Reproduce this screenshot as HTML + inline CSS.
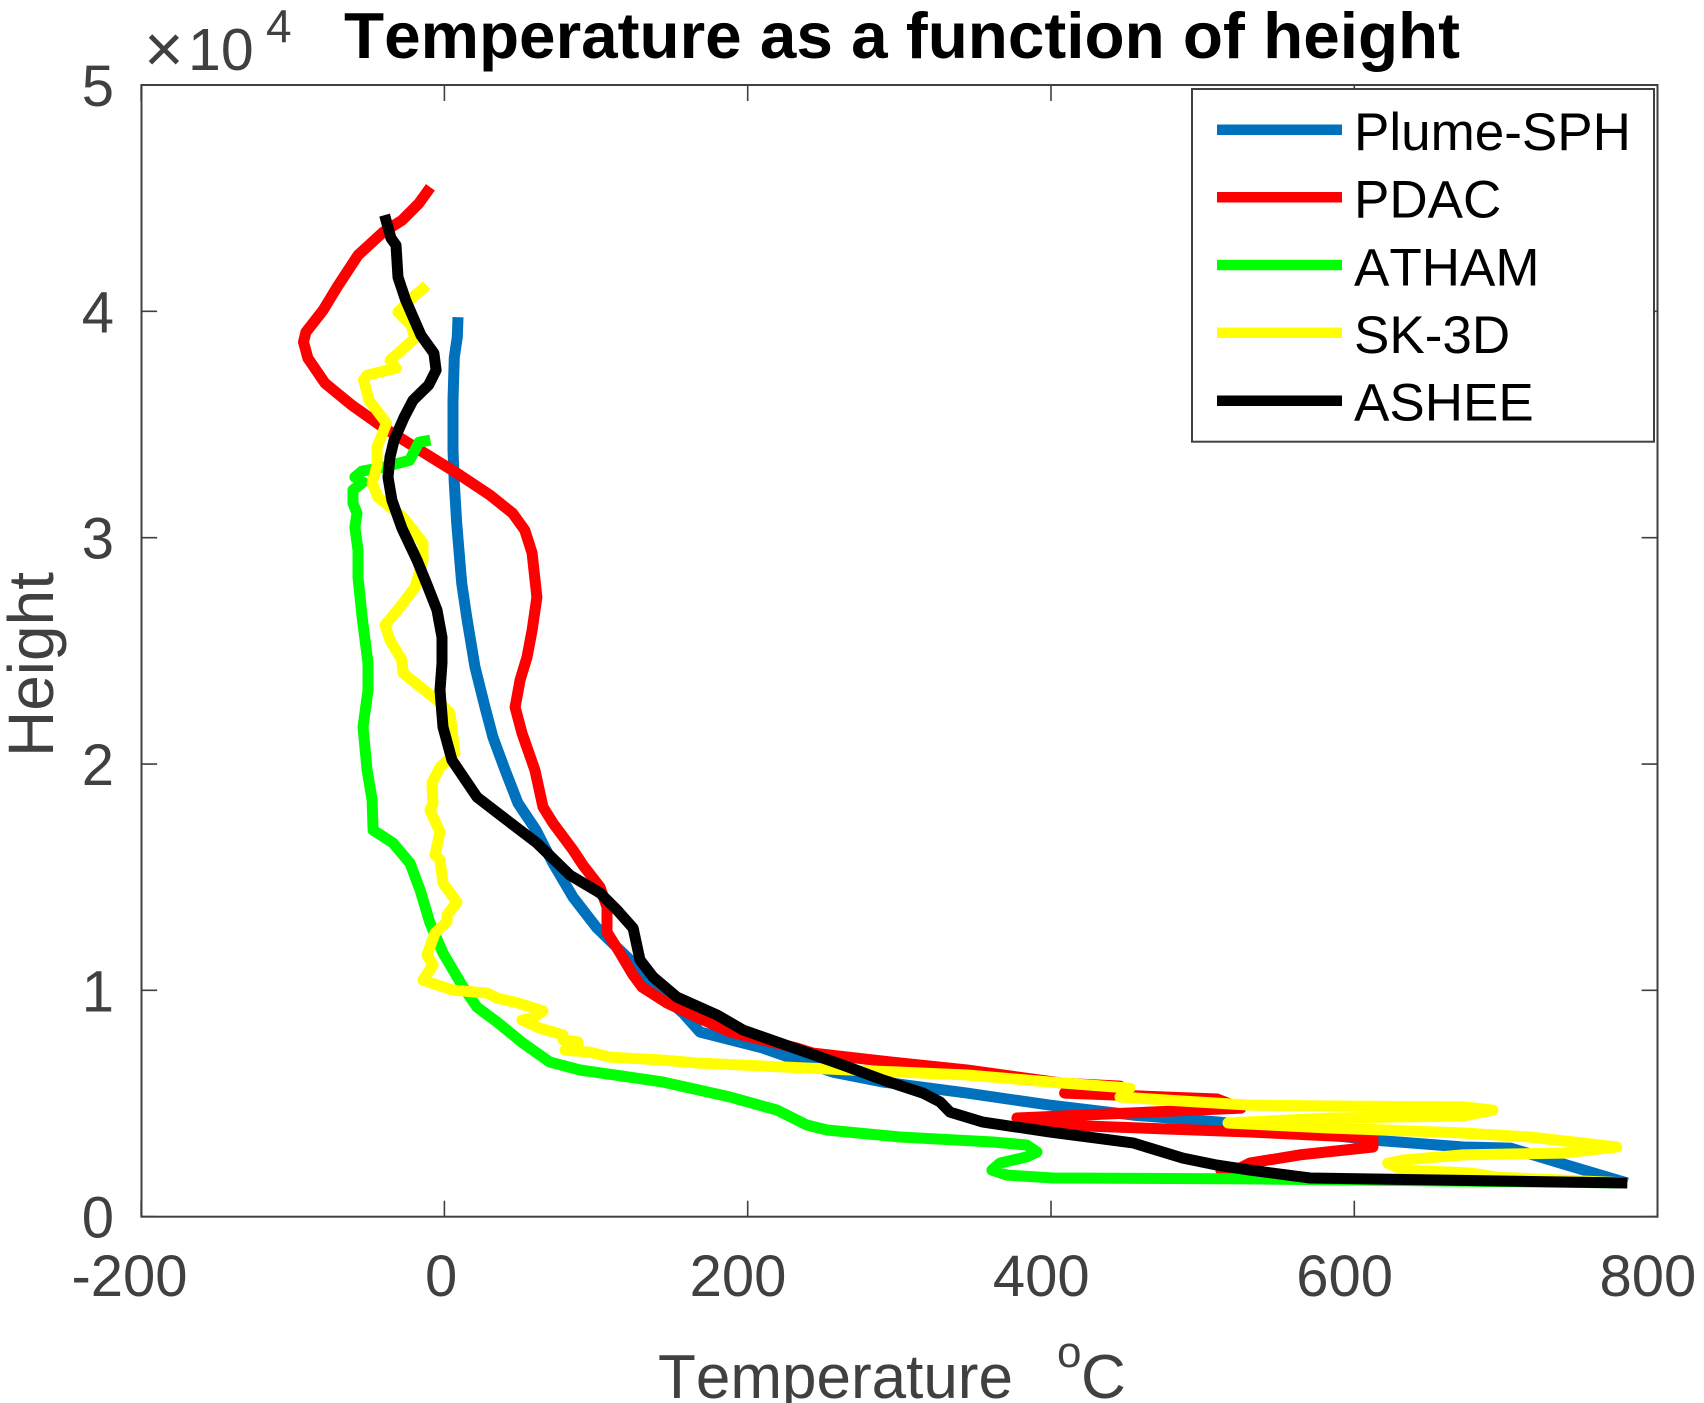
<!DOCTYPE html>
<html lang="en">
<head>
<meta charset="utf-8">
<title>Temperature as a function of height</title>
<style>
  html, body { margin: 0; padding: 0; background: #fff; }
  svg { display: block; font-family: "Liberation Sans", Arial, sans-serif; font-kerning: none; }
</style>
</head>
<body>
<svg id="chart" xmlns="http://www.w3.org/2000/svg" width="1704" height="1403" viewBox="0 0 1704 1403">
  <rect x="0" y="0" width="1704" height="1403" fill="#ffffff"/>
  <rect x="141.5" y="85" width="1516" height="1131.7" fill="none" stroke="#404040" stroke-width="2"/>
  <g id="x-ticks"></g>
  <g id="y-ticks"></g>
  <g id="series"></g>

  <text x="344" y="58" font-size="65" font-weight="bold" fill="#000" textLength="1116" lengthAdjust="spacingAndGlyphs">Temperature as a function of height</text>
  <g fill="#404040">
    <text x="144" y="72" font-size="68" font-weight="normal">×</text>
    <text x="188" y="70" font-size="59">10</text>
    <text x="266" y="42" font-size="46">4</text>
  </g>
  <text transform="translate(53,752) rotate(-90)" x="-5" y="0" font-size="64" fill="#404040">Height</text>
  <g fill="#404040">
    <text x="658" y="1398" font-size="62">Temperature</text>
    <text x="1057" y="1367" font-size="44">o</text>
    <text x="1081" y="1398" font-size="62">C</text>
  </g>

  <g>
    <rect x="1192" y="89" width="462" height="352.7" fill="#fff" stroke="#404040" stroke-width="2"/>
    <g>
      <line x1="1217" x2="1342" y1="129.7" y2="129.7" stroke="#0072bd" stroke-width="10.5"/>
      <text x="1354" y="150" font-size="53" fill="#000">Plume-SPH</text>
    </g>
    <g>
      <line x1="1217" x2="1342" y1="197.3" y2="197.3" stroke="#ff0000" stroke-width="10.5"/>
      <text x="1354" y="217.7" font-size="53" fill="#000">PDAC</text>
    </g>
    <g>
      <line x1="1217" x2="1342" y1="265" y2="265" stroke="#00ff00" stroke-width="10.5"/>
      <text x="1354" y="285.7" font-size="53" fill="#000">ATHAM</text>
    </g>
    <g>
      <line x1="1217" x2="1342" y1="332.7" y2="332.7" stroke="#ffff00" stroke-width="10.5"/>
      <text x="1354" y="353" font-size="53" fill="#000">SK-3D</text>
    </g>
    <g>
      <line x1="1217" x2="1342" y1="400.7" y2="400.7" stroke="#000000" stroke-width="10.5"/>
      <text x="1354" y="420.7" font-size="53" fill="#000">ASHEE</text>
    </g>
  </g>
</svg>
<script>
const xTickValues = [-200, 0, 200, 400, 600, 800];
const yTickValues = [0, 1, 2, 3, 4, 5];
const yTickMultiplier = 10000;

const plumeTemp = [9, 8.5, 6.5, 5.7, 5.7, 6.5, 8.1, 11.4, 14.7, 20.2, 26.8, 32, 40, 48.5, 60.4, 71.6, 84.8, 100.6, 122.4, 140.2, 157.3, 168.5, 210, 232.5, 256, 289, 344.6, 399, 454, 511, 612, 672, 703, 736, 780];
const plumeHeight = [39740, 38860, 37970, 36070, 33860, 32410, 30640, 27990, 26490, 24280, 22510, 21190, 19730, 18270, 17080, 15620, 14120, 12750, 11340, 10010, 9000, 8160, 7450, 6920, 6390, 5950, 5460, 4930, 4490, 4180, 3390, 3080, 3030, 2370, 1490];

const pdacTemp = [-9.2, -16.7, -28, -40.5, -57, -70.8, -80, -91.3, -92.9, -90, -78.7, -61, -40.5, -16, 8.3, 30, 45, 53, 57.8, 61, 57.8, 54.5, 49.9, 46.6, 51.2, 59.7, 65, 71.6, 84.8, 91.4, 102.6, 107.2, 107.2, 115.8, 124.4, 130.3, 146.8, 166.6, 188.3, 232.5, 243, 300.4, 344.6, 407.8, 445.5, 409, 509.5, 525.3, 377.5, 421, 531, 612.3, 612.3, 564, 531, 524.6, 509.5];
const pdacHeight = [45480, 44780, 44020, 43490, 42480, 41060, 40050, 39080, 38640, 37930, 36820, 35850, 34880, 33860, 32850, 31880, 31080, 30330, 29320, 27370, 25910, 24720, 23710, 22510, 21360, 19730, 18100, 17390, 16200, 15530, 14560, 13680, 12570, 11650, 10680, 10150, 9440, 8820, 8160, 7450, 7230, 6790, 6480, 5900, 5770, 5460, 5200, 4800, 4360, 4010, 3740, 3480, 3080, 2730, 2370, 2150, 1800];

const athamTemp = [-9.2, -16.7, -23, -40.5, -54.3, -59, -53.7, -60.3, -60.3, -57.6, -59, -57, -57, -54.3, -50.4, -50.4, -53.7, -51, -47.7, -47, -33.9, -22.7, -16, -9.5, -0.9, 12.3, 21.5, 34.7, 51.8, 69.6, 89.4, 144, 188.3, 219.3, 239, 252.3, 300.4, 361.7, 384, 390.8, 384, 366.3, 361, 371, 401.3, 531, 780];
const athamHeight = [34310, 34220, 33420, 33110, 32940, 32670, 32450, 32100, 31520, 31080, 30460, 29450, 28260, 26490, 24460, 23260, 21630, 19730, 18410, 17080, 16510, 15620, 14430, 12970, 11650, 10150, 9260, 8600, 7670, 6830, 6480, 5950, 5290, 4710, 4050, 3830, 3520, 3300, 3170, 2860, 2640, 2370, 2060, 1840, 1710, 1670, 1490];

const skTemp = [-11.7, -20.7, -30.6, -22, -19.4, -35.9, -31.9, -51, -53.3, -49.7, -38.2, -44.4, -44.4, -47.7, -43.8, -27.3, -14.1, -14.1, -19.4, -29.3, -39.2, -35.9, -28, -27.3, -4.9, 3.7, 5.7, 7, -2.9, -8.2, -7.5, -9.5, -2.9, -6.2, -2.9, -0.9, 8.3, 1.7, 1.7, -6.2, -11.5, -7.5, -14.1, 5.7, 28.1, 34.7, 48.5, 65, 58.4, 51.2, 63, 78.2, 78.2, 88.1, 88.1, 79.5, 96, 109.2, 144, 166.6, 267.5, 344.6, 399, 452, 445.5, 476.5, 531, 583.7, 671.6, 691.4, 671.6, 583.7, 516.7, 583.7, 671.6, 715.7, 773, 737.4, 671.6, 632, 622, 632, 676, 694, 780];
const skHeight = [41150, 40620, 39960, 39390, 38810, 37840, 37490, 37180, 36960, 36070, 35060, 34000, 33200, 32410, 31790, 30910, 29760, 29010, 27810, 26930, 26140, 25470, 24590, 24020, 22820, 22250, 21190, 20480, 19860, 19160, 18270, 17960, 16990, 15980, 15760, 14740, 13900, 13330, 13020, 12530, 11560, 11120, 10450, 10010, 9880, 9660, 9440, 9090, 8780, 8690, 8330, 8030, 7810, 7720, 7580, 7360, 7270, 7050, 6920, 6790, 6480, 6260, 5950, 5680, 5290, 5150, 4930, 4890, 4850, 4710, 4450, 4360, 4140, 3920, 3700, 3520, 3080, 2810, 2730, 2500, 2370, 2060, 1930, 1750, 1490];

const asheeTemp = [-39.4, -35.2, -31.9, -30.6, -25.5, -15.4, -6.9, -5.5, -10.4, -20.7, -26.6, -33.2, -35.9, -37.2, -34.6, -28, -18.1, -10.8, -4.9, -1.6, -1.6, -2.9, -0.9, 5, 21.5, 41.3, 61, 82.8, 102.6, 113.8, 124.4, 129, 137.6, 153.4, 179.8, 196.9, 234.5, 262.8, 289.2, 315.6, 326.8, 333.4, 355.1, 399.3, 454, 487, 509.5, 531, 570.8, 780];
const asheeHeight = [44250, 43230, 42920, 41510, 40490, 38940, 38150, 37400, 36740, 36070, 35320, 34310, 33560, 32670, 31660, 30420, 29010, 27810, 26800, 25600, 24460, 23260, 21630, 20170, 18540, 17520, 16510, 15090, 14300, 13550, 12750, 11340, 10590, 9700, 8910, 8250, 7360, 6700, 6040, 5460, 5070, 4620, 4180, 3740, 3260, 2590, 2280, 2060, 1710, 1490];

const SVG_NS = 'http://www.w3.org/2000/svg';
const PLOT_LEFT = 141.1, PLOT_RIGHT = 1657.6, PLOT_TOP = 85.0, PLOT_BOTTOM = 1216.7;
const X_MIN = -200, X_MAX = 800, Y_MIN = 0, Y_MAX = 50000;
const TICK_LEN = 16;

function xScale(t) { return PLOT_LEFT + (t - X_MIN) / (X_MAX - X_MIN) * (PLOT_RIGHT - PLOT_LEFT); }
function yScale(h) { return PLOT_BOTTOM - (h - Y_MIN) / (Y_MAX - Y_MIN) * (PLOT_BOTTOM - PLOT_TOP); }

function makeLine(x1, y1, x2, y2) {
  const l = document.createElementNS(SVG_NS, 'line');
  l.setAttribute('x1', x1);
  l.setAttribute('y1', y1);
  l.setAttribute('x2', x2);
  l.setAttribute('y2', y2);
  l.setAttribute('stroke', '#404040');
  l.setAttribute('stroke-width', '1.6');
  return l;
}

const xTickGroup = document.getElementById('x-ticks');
xTickValues.forEach(function (v) {
  const px = xScale(v);
  const bottomTick = makeLine(px, PLOT_BOTTOM, px, PLOT_BOTTOM - TICK_LEN);
  
  
  xTickGroup.appendChild(bottomTick);
  const topTick = makeLine(px, PLOT_TOP, px, PLOT_TOP + TICK_LEN);
  
  
  xTickGroup.appendChild(topTick);
  const label = document.createElementNS(SVG_NS, 'text');
  
  
  label.setAttribute('y', '1296');
  label.setAttribute('font-size', '58');
  label.setAttribute('fill', '#404040');
  label.setAttribute('text-anchor', 'middle');
  label.textContent = String(v);
  xTickGroup.appendChild(label);
  label.setAttribute('x', px - 0.1 * label.getComputedTextLength());
});

const yTickGroup = document.getElementById('y-ticks');
yTickValues.forEach(function (v) {
  const py = yScale(v * yTickMultiplier);
  const leftTick = makeLine(PLOT_LEFT, py, PLOT_LEFT + TICK_LEN, py);
  
  
  yTickGroup.appendChild(leftTick);
  const rightTick = makeLine(PLOT_RIGHT, py, PLOT_RIGHT - TICK_LEN, py);
  
  
  yTickGroup.appendChild(rightTick);
  const label = document.createElementNS(SVG_NS, 'text');
  
  
  label.setAttribute('x', '114');
  label.setAttribute('y', py + 21);
  label.setAttribute('font-size', '58');
  label.setAttribute('fill', '#404040');
  label.setAttribute('text-anchor', 'end');
  label.textContent = String(v);
  yTickGroup.appendChild(label);
});

const seriesGroup = document.getElementById('series');
function drawSeries(name, color, temps, heights) {
  const el = document.createElementNS(SVG_NS, 'polyline');
  
  
  el.setAttribute('fill', 'none');
  el.setAttribute('stroke', color);
  el.setAttribute('stroke-width', '11');
  el.setAttribute('stroke-linejoin', 'round');
  el.setAttribute('stroke-linecap', 'butt');
  el.setAttribute('points', temps.map(function (t, i) {
    return xScale(t).toFixed(1) + ',' + yScale(heights[i]).toFixed(1);
  }).join(' '));
  seriesGroup.appendChild(el);
}
drawSeries('plume-sph-line', '#0072bd', plumeTemp, plumeHeight);
drawSeries('pdac-line', '#ff0000', pdacTemp, pdacHeight);
drawSeries('atham-line', '#00ff00', athamTemp, athamHeight);
drawSeries('sk-3d-line', '#ffff00', skTemp, skHeight);
drawSeries('ashee-line', '#000000', asheeTemp, asheeHeight);
</script>
</body>
</html>
